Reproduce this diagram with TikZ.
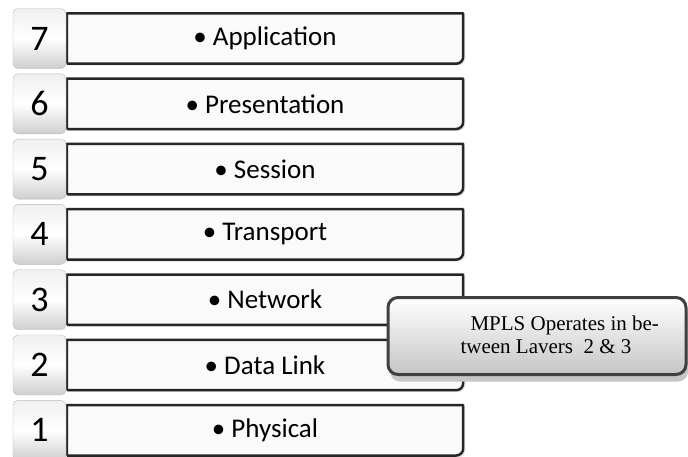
\documentclass[tikz,border=0pt]{standalone}
\usepackage{fontspec}
\setmainfont{Carlito}
\newfontfamily\notefont{Liberation Serif}
\usetikzlibrary{shadows}

\tikzset{
  numbox/.style={rounded corners=5pt,draw=gray!55,thin,top color=gray!12,bottom color=gray!38,middle color=white,
    minimum width=53pt,minimum height=60pt,inner sep=0pt,font=\fontsize{36}{36}\selectfont},
  layerbox/.style={fill=gray!4,draw=black!85,line width=2.5pt,line join=round,
    drop shadow={opacity=0.2,shadow xshift=2pt,shadow yshift=-2pt}},
  layertext/.style={minimum width=396pt,minimum height=50pt,inner sep=0pt,font=\fontsize{27}{27}\selectfont},
  notebox/.style={rounded corners=10pt,draw=gray!50!black,line width=3pt,top color=white,bottom color=gray!45,
    minimum width=298pt,minimum height=77pt,inner sep=0pt,
    drop shadow={fill=gray!45,opacity=1,shadow xshift=2pt,shadow yshift=-7pt}}
}

\begin{document}
\begin{tikzpicture}[x=1pt,y=-1pt]
          \useasboundingbox (0,0) rectangle (688,456);
          % layer bars
          \node[layertext] (l7) at (265,38.5) {};
          \node[layertext] (l6) at (265,103.8) {};
          \node[layertext] (l5) at (265,169.1) {};
          \node[layertext] (l4) at (265,234.4) {};
          \node[layertext] (l3) at (265,299.7) {};
          \node[layertext] (l2) at (265,365) {};
          \node[layertext] (l1) at (265,430.3) {};
          \path[layerbox] (l7.south west) -- (l7.north west) -- (l7.north east) [rounded corners=7pt] -- (l7.south east) -- (l7.south west);
          \path[layerbox] (l6.south west) -- (l6.north west) -- (l6.north east) [rounded corners=7pt] -- (l6.south east) -- (l6.south west);
          \path[layerbox] (l5.south west) -- (l5.north west) -- (l5.north east) [rounded corners=7pt] -- (l5.south east) -- (l5.south west);
          \path[layerbox] (l4.south west) -- (l4.north west) -- (l4.north east) [rounded corners=7pt] -- (l4.south east) -- (l4.south west);
          \path[layerbox] (l3.south west) -- (l3.north west) -- (l3.north east) [rounded corners=7pt] -- (l3.south east) -- (l3.south west);
          \path[layerbox] (l2.south west) -- (l2.north west) -- (l2.north east) [rounded corners=7pt] -- (l2.south east) -- (l2.south west);
          \path[layerbox] (l1.south west) -- (l1.north west) -- (l1.north east) [rounded corners=7pt] -- (l1.south east) -- (l1.south west);
          \node[font=\fontsize{27}{27}\selectfont] (t7) at (l7.center) {\textbullet\ Application};
          \node[font=\fontsize{27}{27}\selectfont] (t6) at (l6.center) {\textbullet\ Presentation};
          \node[font=\fontsize{27}{27}\selectfont] (t5) at (l5.center) {\textbullet\ Session};
          \node[font=\fontsize{27}{27}\selectfont] (t4) at (l4.center) {\textbullet\ Transport};
          \node[font=\fontsize{27}{27}\selectfont] (t3) at (l3.center) {\textbullet\ Network};
          \node[font=\fontsize{27}{27}\selectfont] (t2) at (l2.center) {\textbullet\ Data Link};
          \node[font=\fontsize{27}{27}\selectfont] (t1) at (l1.center) {\textbullet\ Physical};
          % layer numbers
          \node[numbox] (n7) at (39.5,38.5) {7};
          \node[numbox] (n6) at (39.5,103.8) {6};
          \node[numbox] (n5) at (39.5,169.1) {5};
          \node[numbox] (n4) at (39.5,234.4) {4};
          \node[numbox] (n3) at (39.5,299.7) {3};
          \node[numbox] (n2) at (39.5,365) {2};
          \node[numbox] (n1) at (39.5,430.3) {1};
          % note
          \node[notebox] (mpls) at (537,336) {};
          \node[align=left,font=\notefont\fontsize{21}{23.5}\selectfont,anchor=west] (mplstext) at (457,335)
            {\hspace*{10pt}MPLS Operates in be-\\tween Lavers~~2 \& 3};
        \end{tikzpicture}
\end{document}
